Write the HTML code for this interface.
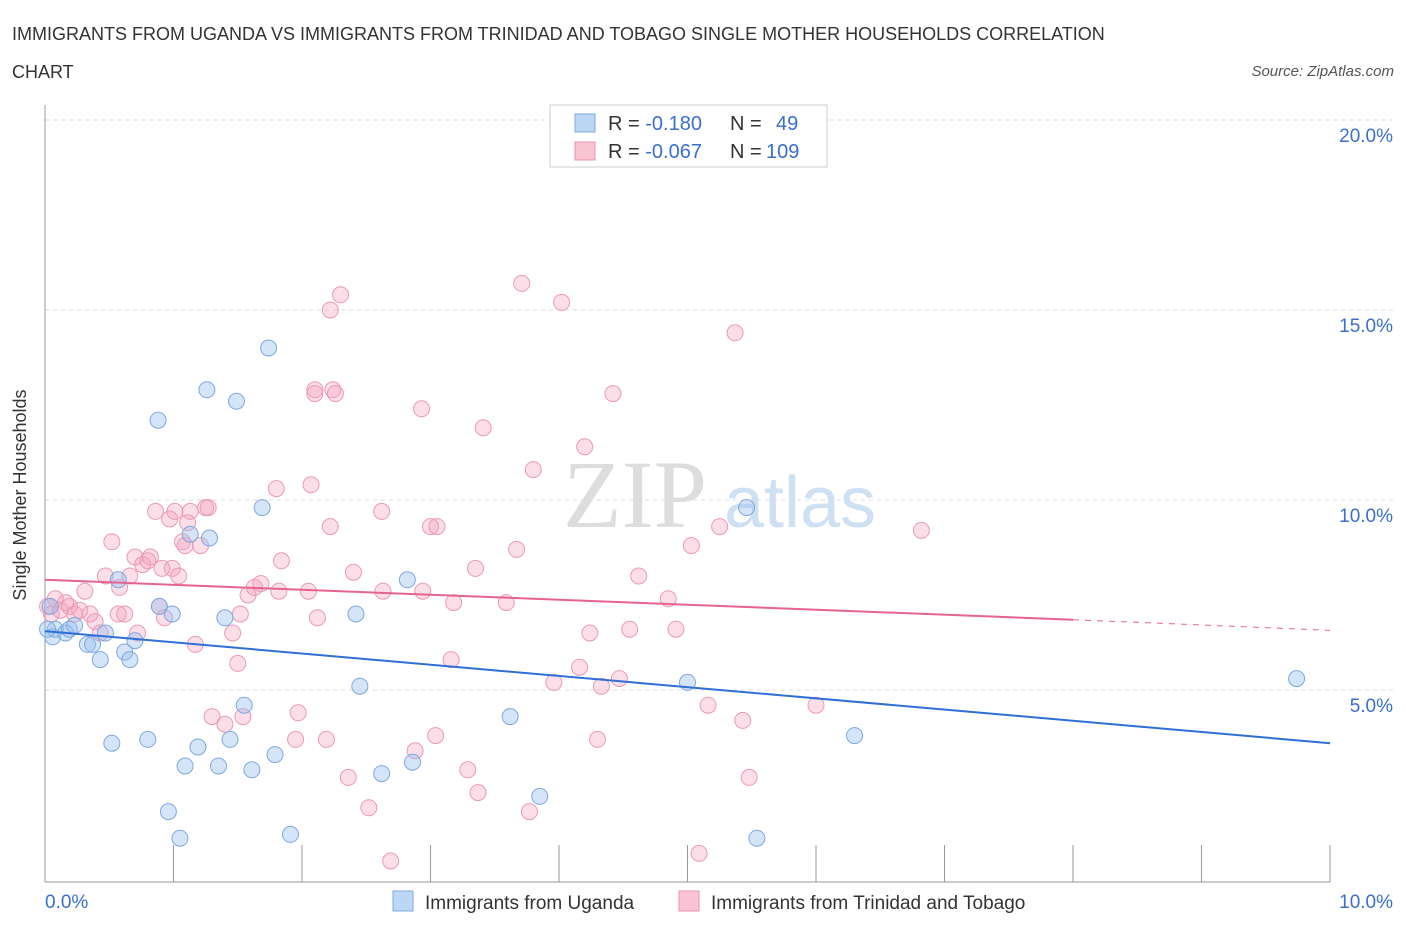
<!DOCTYPE html>
<html><head><meta charset="utf-8"><style>
body{margin:0;background:#fff;font-family:"Liberation Sans",sans-serif;}
svg{display:block}
</style></head><body>
<svg width="1406" height="930" xmlns="http://www.w3.org/2000/svg">
<text x="12" y="40" font-size="18" fill="#333">IMMIGRANTS FROM UGANDA VS IMMIGRANTS FROM TRINIDAD AND TOBAGO SINGLE MOTHER HOUSEHOLDS CORRELATION</text>
<text x="12" y="78" font-size="18" fill="#333">CHART</text>
<text x="1394" y="76" font-size="15" font-style="italic" fill="#555" text-anchor="end">Source: ZipAtlas.com</text>
<text x="635" y="527" font-size="96" font-family="Liberation Serif" fill="#ddd" text-anchor="middle">ZIP</text>
<text x="800" y="527" font-size="72" fill="#cfe0f3" text-anchor="middle">atlas</text>
<g id="grid"></g>
<g id="marks"></g>
<text x="26" y="495" font-size="18" fill="#333" text-anchor="middle" transform="rotate(-90 26 495)">Single Mother Households</text>
<g>
<rect x="550" y="105" width="277" height="62" fill="#fff" stroke="#ccc"/>
<rect x="575" y="114" width="20" height="18" fill="#bcd6f5" stroke="#7fa9de"/>
<rect x="575" y="142" width="20" height="18" fill="#f8c4d4" stroke="#e893ad"/>
<text x="608" y="130" font-size="20" fill="#333">R = <tspan fill="#3a6fd0">-0.180</tspan><tspan x="730">N = </tspan><tspan x="776" fill="#3a6fd0">49</tspan></text>
<text x="608" y="158" font-size="20" fill="#333">R = <tspan fill="#3a6fd0">-0.067</tspan><tspan x="730">N = </tspan><tspan x="766" fill="#3a6fd0">109</tspan></text>
</g>
<g>
<rect x="393" y="891" width="20" height="20" fill="#bcd6f5" stroke="#7fa9de"/>
<text x="425" y="909" font-size="19" fill="#333">Immigrants from Uganda</text>
<rect x="679" y="891" width="20" height="20" fill="#f8c4d4" stroke="#e893ad"/>
<text x="711" y="909" font-size="19" fill="#333">Immigrants from Trinidad and Tobago</text>
</g>
</svg>
<script>
const yTicks=[5,10,15,20];
const xTickLabels=["0.0%","10.0%"];
const blueX=[0.04,0.06,0.08,0.16,0.19,0.23,0.33,0.37,0.43,0.47,0.52,0.57,0.62,0.66,0.7,0.8,0.88,0.89,0.96,0.99,1.05,1.09,1.13,1.19,1.26,1.28,1.35,1.4,1.44,1.49,1.55,1.61,1.69,1.74,1.79,1.91,2.42,2.45,2.62,2.82,2.86,3.62,3.85,5.0,5.46,5.54,6.3,9.74,0.02];
const blueY=[7.2,6.4,6.6,6.5,6.6,6.7,6.2,6.2,5.8,6.5,3.6,7.9,6.0,5.8,6.3,3.7,12.1,7.2,1.8,7.0,1.1,3.0,9.1,3.5,12.9,9.0,3.0,6.9,3.7,12.6,4.6,2.9,9.8,14.0,3.3,1.2,7.0,5.1,2.8,7.9,3.1,4.3,2.2,5.2,9.8,1.1,3.8,5.3,6.6];
const pinkX=[0.02,0.05,0.08,0.12,0.16,0.19,0.23,0.27,0.31,0.35,0.39,0.43,0.47,0.52,0.57,0.58,0.62,0.66,0.7,0.72,0.76,0.8,0.82,0.86,0.89,0.91,0.93,0.97,0.99,1.01,1.04,1.07,1.09,1.11,1.13,1.17,1.21,1.25,1.27,1.3,1.4,1.46,1.5,1.54,1.58,1.52,1.63,1.68,1.8,1.82,1.84,1.95,1.97,2.05,2.07,2.12,2.1,2.19,2.22,2.24,2.26,2.3,2.36,2.4,2.1,2.22,2.52,2.62,2.63,2.69,2.88,2.93,2.94,3.0,3.04,3.05,3.16,3.18,3.29,3.35,3.37,3.41,3.59,3.67,3.71,3.77,3.8,3.96,4.02,4.16,4.2,4.24,4.3,4.33,4.42,4.47,4.55,4.62,4.85,4.91,5.03,5.09,5.37,5.43,5.48,5.16,5.25,6.0,6.82];
const pinkY=[7.2,7.0,7.4,7.1,7.3,7.2,7.0,7.1,7.6,7.0,6.8,6.5,8.0,8.9,7.0,7.7,7.0,8.0,8.5,6.5,8.3,8.4,8.5,9.7,7.2,8.2,6.9,9.5,8.2,9.7,8.0,8.9,8.8,9.4,9.7,6.2,8.8,9.8,9.8,4.3,4.1,6.5,5.7,4.3,7.5,7.0,7.7,7.8,10.3,7.6,8.4,3.7,4.4,7.6,10.4,6.9,12.9,3.7,9.3,12.9,12.8,15.4,2.7,8.1,12.8,15.0,1.9,9.7,7.6,0.5,3.4,12.4,7.6,9.3,3.8,9.3,5.8,7.3,2.9,8.2,2.3,11.9,7.3,8.7,15.7,1.8,10.8,5.2,15.2,5.6,11.4,6.5,3.7,5.1,12.8,5.3,6.6,8.0,7.4,6.6,8.8,0.7,14.4,4.2,2.7,4.6,9.3,4.6,9.2];
const blueTrend=[[0,6.55],[10,3.6]];
const pinkTrend=[[0,7.9],[8.0,6.85],[10,6.57]];
const X0=45,X1=1330,Y0=880,Y20=120;
const sx=v=>X0+(X1-X0)*v/10;
const sy=v=>Y0-(Y0-Y20)*v/20;
const NS="http://www.w3.org/2000/svg";
const grid=document.getElementById('grid'),marks=document.getElementById('marks');
function mk(p,tag,a){const e=document.createElementNS(NS,tag);for(const k in a)e.setAttribute(k,a[k]);p.appendChild(e);return e;}
yTicks.forEach(t=>{
 const l=mk(grid,'line',{x1:X0,x2:1395,y1:sy(t),y2:sy(t),stroke:'#ddd','stroke-dasharray':'4 4'});
 
 
 const tx=mk(grid,'text',{x:1393,y:sy(t)+22,'font-size':19,fill:'#3a6fd0','text-anchor':'end'});
 tx.textContent=t.toFixed(1)+'%';
 
 
});
const ax=mk(grid,'line',{x1:X0,x2:X0,y1:105,y2:882,stroke:'#999'});


const bx=mk(grid,'line',{x1:X0,x2:X1,y1:882,y2:882,stroke:'#999'});


for(let i=0;i<=10;i++){
 const t=mk(grid,'line',{x1:sx(i),x2:sx(i),y1:845,y2:882,stroke:'#999'});
 
 
}
[[0,'start',45],[10,'end',1393]].forEach((d,i)=>{
 const t=mk(grid,'text',{x:d[2],y:908,'font-size':19,fill:'#3a6fd0','text-anchor':d[1]});
 t.textContent=xTickLabels[i];
 
 
});
pinkX.forEach((x,i)=>{
 const c=mk(marks,'circle',{cx:sx(x),cy:sy(pinkY[i]),r:8,fill:'rgba(244,160,188,0.35)',stroke:'#eb9ab4','stroke-width':1});
 
 
});
blueX.forEach((x,i)=>{
 const c=mk(marks,'circle',{cx:sx(x),cy:sy(blueY[i]),r:8,fill:'rgba(150,190,240,0.4)',stroke:'#7ea8df','stroke-width':1});
 
 
});
const bl=mk(marks,'line',{x1:sx(blueTrend[0][0]),y1:sy(blueTrend[0][1]),x2:sx(blueTrend[1][0]),y2:sy(blueTrend[1][1]),stroke:'#2f6fd6','stroke-width':2});


const pl=mk(marks,'line',{x1:sx(pinkTrend[0][0]),y1:sy(pinkTrend[0][1]),x2:sx(pinkTrend[1][0]),y2:sy(pinkTrend[1][1]),stroke:'#e5648f','stroke-width':2});


const pd=mk(marks,'line',{x1:sx(pinkTrend[1][0]),y1:sy(pinkTrend[1][1]),x2:sx(pinkTrend[2][0]),y2:sy(pinkTrend[2][1]),stroke:'#e5648f','stroke-width':1,'stroke-dasharray':'6 6'});


</script>
</body></html>
